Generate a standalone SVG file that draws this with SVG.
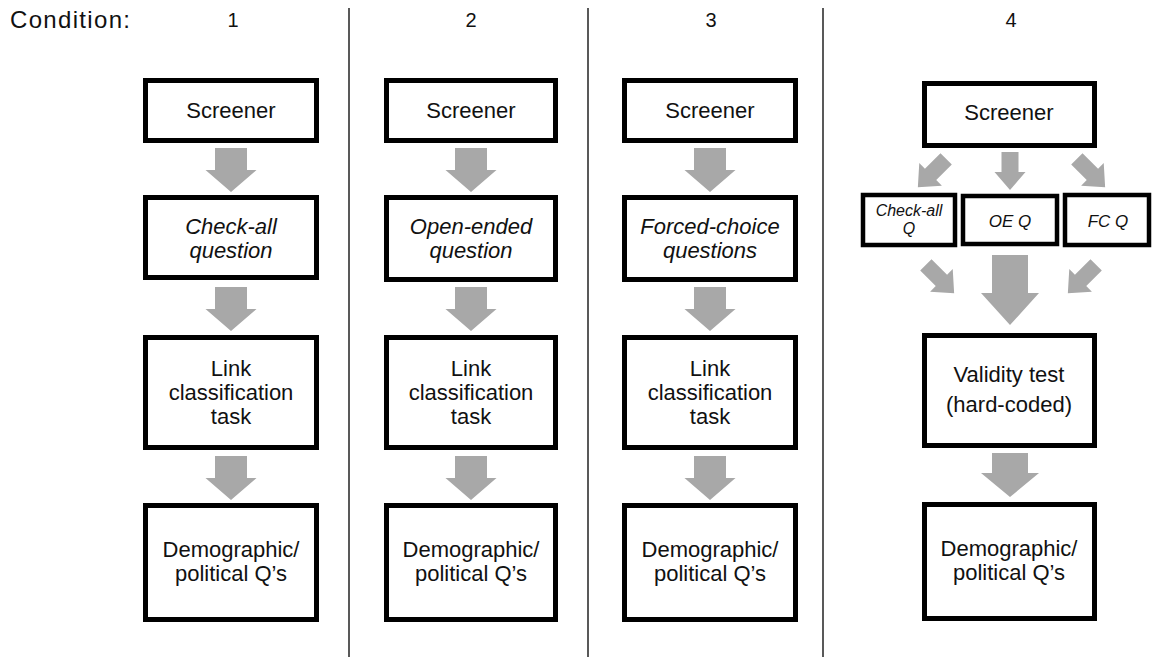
<svg xmlns="http://www.w3.org/2000/svg" width="1156" height="657" viewBox="0 0 1156 657">
<style>
text{font-family:"Liberation Sans",Arial,Helvetica,sans-serif;fill:#111;text-anchor:middle}
.t{font-size:22px}
.i{font-size:22px;font-style:italic}
.s{font-size:16px;font-style:italic}
.m{font-size:17px;font-style:italic}
.h{font-size:20px}
.box{fill:#fff;stroke:#000;stroke-width:5}
.sbox{fill:#fff;stroke:#000;stroke-width:4.5}
.arr{fill:#a8a8a8}
.sep{stroke:#222;stroke-width:1.5}
</style>
<defs>
<polygon id="a" points="-16,0 16,0 16,22 25.5,22 0,44 -25.5,22 -16,22"/>
<polygon id="d" points="-8,-20 8,-20 8,2 16,2 0,20 -16,2 -8,2"/>
</defs>
<g id="header">
<text x="10" y="28" style="font-size:24px;text-anchor:start" textLength="120" lengthAdjust="spacing">Condition:</text>
<text class="h" x="233" y="27">1</text>
<text class="h" x="471" y="27">2</text>
<text class="h" x="711" y="27">3</text>
<text class="h" x="1011" y="27">4</text>
</g>
<g id="separators">
<line class="sep" x1="349" y1="8" x2="349" y2="657"/>
<line class="sep" x1="588" y1="8" x2="588" y2="657"/>
<line class="sep" x1="823" y1="8" x2="823" y2="657"/>
</g>
<g id="connectors" class="arr">
<use href="#a" x="231" y="148"/>
<use href="#a" x="231" y="287"/>
<use href="#a" x="231" y="456"/>
<use href="#a" x="471" y="148"/>
<use href="#a" x="471" y="287"/>
<use href="#a" x="471" y="456"/>
<use href="#a" x="710" y="148"/>
<use href="#a" x="710" y="287"/>
<use href="#a" x="710" y="456"/>
<polygon points="1001.5,152 1018.5,152 1018.5,172 1025.5,172 1010,190 994.5,172 1001.5,172"/>
<use href="#d" transform="translate(932,173) rotate(45)"/>
<use href="#d" transform="translate(1091,173) rotate(-45)"/>
<use href="#d" transform="translate(940,279) rotate(-45)"/>
<use href="#d" transform="translate(1082,279) rotate(45)"/>
<polygon points="992,255 1028,255 1028,293 1039,293 1010,325 981,293 992,293"/>
<polygon points="992,453 1028,453 1028,473 1039,473 1010,497 981,473 992,473"/>
</g>
<g id="c1-screener"><rect class="box" x="145.5" y="80.5" width="171" height="60"/><text class="t" x="231" y="118">Screener</text></g>
<g id="c1-q"><rect class="box" x="145.5" y="197.5" width="171" height="80"/><text class="i" x="231" y="234">Check-all</text><text class="i" x="231" y="258">question</text></g>
<g id="c1-link"><rect class="box" x="145.5" y="337.5" width="171" height="110"/><text class="t" x="231" y="376">Link</text><text class="t" x="231" y="400">classification</text><text class="t" x="231" y="424">task</text></g>
<g id="c1-demo"><rect class="box" x="145.5" y="505.5" width="171" height="114"/><text class="t" x="231" y="557">Demographic/</text><text class="t" x="231" y="581">political Q’s</text></g>
<g id="c2-screener"><rect class="box" x="386.5" y="80.5" width="169" height="60"/><text class="t" x="471" y="118">Screener</text></g>
<g id="c2-q"><rect class="box" x="386.5" y="197.5" width="169" height="82"/><text class="i" x="471" y="234">Open-ended</text><text class="i" x="471" y="258">question</text></g>
<g id="c2-link"><rect class="box" x="386.5" y="337.5" width="169" height="110"/><text class="t" x="471" y="376">Link</text><text class="t" x="471" y="400">classification</text><text class="t" x="471" y="424">task</text></g>
<g id="c2-demo"><rect class="box" x="386.5" y="505.5" width="169" height="114"/><text class="t" x="471" y="557">Demographic/</text><text class="t" x="471" y="581">political Q’s</text></g>
<g id="c3-screener"><rect class="box" x="624.5" y="80.5" width="171" height="60"/><text class="t" x="710" y="118">Screener</text></g>
<g id="c3-q"><rect class="box" x="624.5" y="197.5" width="171" height="82"/><text class="i" x="710" y="234">Forced-choice</text><text class="i" x="710" y="258">questions</text></g>
<g id="c3-link"><rect class="box" x="624.5" y="337.5" width="171" height="110"/><text class="t" x="710" y="376">Link</text><text class="t" x="710" y="400">classification</text><text class="t" x="710" y="424">task</text></g>
<g id="c3-demo"><rect class="box" x="624.5" y="505.5" width="171" height="114"/><text class="t" x="710" y="557">Demographic/</text><text class="t" x="710" y="581">political Q’s</text></g>
<g id="c4-screener"><rect class="box" x="924.5" y="83.5" width="170" height="62"/><text class="t" x="1009" y="120">Screener</text></g>
<g id="c4-checkall"><rect class="sbox" x="863" y="195" width="92" height="50"/><text class="s" x="909" y="216">Check-all</text><text class="s" x="909" y="234">Q</text></g>
<g id="c4-oe"><rect class="sbox" x="963" y="196" width="94" height="48"/><text class="m" x="1010" y="227">OE Q</text></g>
<g id="c4-fc"><rect class="sbox" x="1065" y="195" width="84" height="50"/><text class="m" x="1108" y="227">FC Q</text></g>
<g id="c4-validity"><rect class="box" x="924.5" y="335.5" width="170" height="110"/><text class="t" x="1009" y="382">Validity test</text><text class="t" x="1009" y="412">(hard-coded)</text></g>
<g id="c4-demo"><rect class="box" x="924.5" y="504.5" width="170" height="114"/><text class="t" x="1009" y="556">Demographic/</text><text class="t" x="1009" y="580">political Q’s</text></g>
</svg>
